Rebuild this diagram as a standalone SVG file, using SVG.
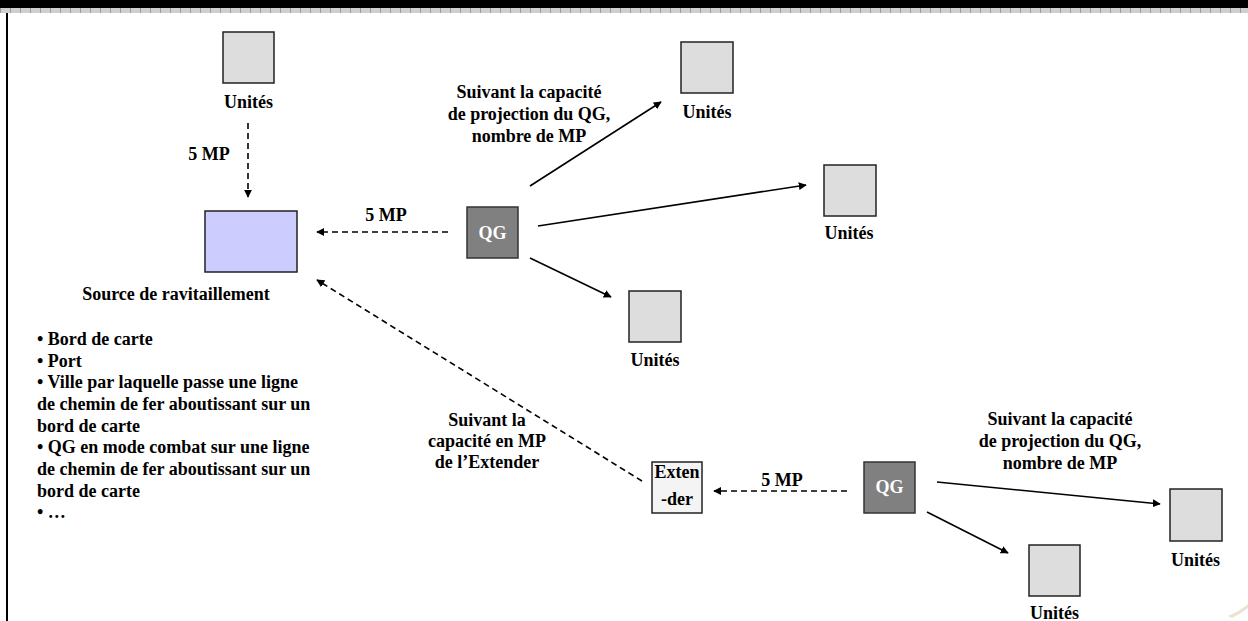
<svg xmlns="http://www.w3.org/2000/svg" width="1248" height="621" viewBox="0 0 1248 621">
<style>
text{font-family:"Liberation Serif","Times New Roman",serif;font-weight:bold;font-size:18px;fill:#000}
.c{text-anchor:middle}
.unit{fill:#dddddd;stroke:#222;stroke-width:1.5}
.qg{fill:#808080;stroke:#333;stroke-width:1.5}
.qgt{fill:#ffffff;text-anchor:middle}
.solid{stroke:#000;stroke-width:1.6;fill:none;marker-end:url(#ah)}
.dash{stroke:#000;stroke-width:1.6;fill:none;stroke-dasharray:6 4;marker-end:url(#ah)}
</style>
<defs>
<marker id="ah" viewBox="0 0 10 10" refX="9" refY="5" markerWidth="8" markerHeight="8" orient="auto" markerUnits="userSpaceOnUse">
<path d="M0,0 L10,5 L0,10 z" fill="#000"/>
</marker>
<pattern id="band" width="10" height="5" patternUnits="userSpaceOnUse">
<rect width="10" height="5" fill="#cfcfcf"/>
<rect x="0" width="1" height="5" fill="#9a9a9a"/>
</pattern>
</defs>
<rect width="1248" height="621" fill="#fff"/>
<rect x="0" y="0" width="1248" height="8" fill="#000"/>
<rect x="0" y="8" width="1248" height="5" fill="url(#band)"/>
<line x1="7" y1="13" x2="7" y2="621" stroke="#000" stroke-width="2"/>
<path d="M1228,616 Q1240,611 1248,604 L1248,608 Q1240,614 1232,618 z" fill="#e6dcc4" opacity="0.8"/>

<g id="connectors">
<line class="dash" x1="248" y1="123" x2="248" y2="197"/>
<line class="dash" x1="448" y1="232" x2="317" y2="232"/>
<line class="dash" x1="642" y1="481" x2="317" y2="280"/>
<line class="solid" x1="530" y1="186" x2="661" y2="102"/>
<line class="solid" x1="538" y1="226" x2="806" y2="185"/>
<line class="solid" x1="530" y1="258" x2="611" y2="297"/>
<line class="dash" x1="847" y1="491" x2="714" y2="491"/>
<line class="solid" x1="937" y1="482" x2="1160" y2="504"/>
<line class="solid" x1="927" y1="512" x2="1008" y2="553"/>
<text class="c" x="209" y="160">5 MP</text>
<text class="c" x="386" y="221">5 MP</text>
<text class="c" x="782" y="486">5 MP</text>
<text class="c" x="529" y="98">Suivant la capacité</text>
<text class="c" x="529" y="120">de projection du QG,</text>
<text class="c" x="529" y="142">nombre de MP</text>
<text class="c" x="1060" y="425">Suivant la capacité</text>
<text class="c" x="1060" y="447">de projection du QG,</text>
<text class="c" x="1060" y="469">nombre de MP</text>
<text class="c" x="487" y="426">Suivant la</text>
<text class="c" x="487" y="447">capacité en MP</text>
<text class="c" x="487" y="468">de l’Extender</text>
</g>

<g id="unit-top">
<rect class="unit" x="223" y="32" width="51" height="51"/>
<text class="c" x="248.5" y="108">Unités</text>
</g>
<g id="source">
<rect x="205" y="211" width="92" height="61" fill="#ccccff" stroke="#222" stroke-width="1.5"/>
<text class="c" x="176" y="300">Source de ravitaillement</text>
</g>
<g id="source-list">
<text x="37" y="345">• Bord de carte</text>
<text x="37" y="367">• Port</text>
<text x="37" y="388">• Ville par laquelle passe une ligne</text>
<text x="37" y="410">de chemin de fer aboutissant sur un</text>
<text x="37" y="432">bord de carte</text>
<text x="37" y="453">• QG en mode combat sur une ligne</text>
<text x="37" y="475">de chemin de fer aboutissant sur un</text>
<text x="37" y="497">bord de carte</text>
<text x="37" y="518">• …</text>
</g>
<g id="qg1">
<rect class="qg" x="467" y="207" width="51" height="51"/>
<text class="qgt" x="492.5" y="239">QG</text>
</g>
<g id="unit-a">
<rect class="unit" x="681" y="42" width="52" height="51"/>
<text class="c" x="707" y="118">Unités</text>
</g>
<g id="unit-b">
<rect class="unit" x="824" y="165" width="52" height="51"/>
<text class="c" x="849" y="239">Unités</text>
</g>
<g id="unit-c">
<rect class="unit" x="629" y="291" width="52" height="51"/>
<text class="c" x="655" y="366">Unités</text>
</g>
<g id="extender">
<rect x="652" y="462" width="50" height="51" fill="#f4f4f4" stroke="#222" stroke-width="1.5"/>
<text class="c" x="677" y="478">Exten</text>
<text class="c" x="677" y="505">-der</text>
</g>
<g id="qg2">
<rect class="qg" x="864" y="462" width="51" height="51"/>
<text class="qgt" x="889.5" y="493">QG</text>
</g>
<g id="unit-d">
<rect class="unit" x="1170" y="489" width="52" height="52"/>
<text class="c" x="1195.5" y="566">Unités</text>
</g>
<g id="unit-e">
<rect class="unit" x="1029" y="545" width="51" height="51"/>
<text class="c" x="1054.5" y="619">Unités</text>
</g>
</svg>
